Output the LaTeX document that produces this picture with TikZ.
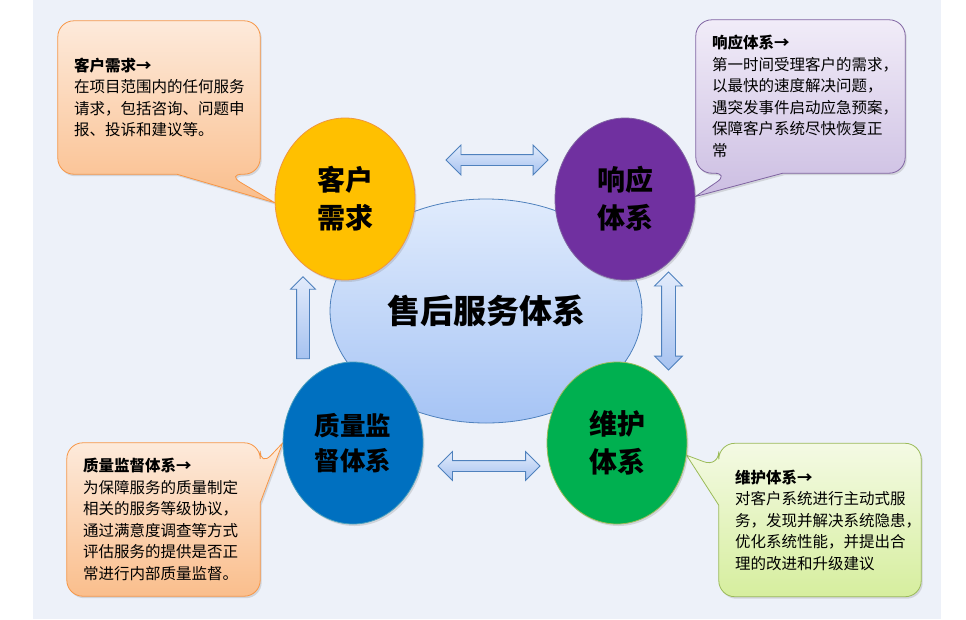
\documentclass[tikz,border=0pt]{standalone}
\usepackage{fontspec}
\setmainfont{Noto Sans CJK SC}
\usepackage{tikz}
\usetikzlibrary{positioning, calc, shapes.geometric, shapes.arrows, shadows}

\definecolor{bgblue}{RGB}{237,241,249}
\definecolor{linkblue}{RGB}{79,129,189}
\definecolor{coretop}{RGB}{224,235,252}
\definecolor{corebot}{RGB}{166,196,245}
\definecolor{arrtop}{RGB}{226,235,251}
\definecolor{arrbot}{RGB}{166,194,240}
\definecolor{reqfill}{RGB}{255,192,0}
\definecolor{reqline}{RGB}{240,150,60}
\definecolor{respfill}{RGB}{112,48,160}
\definecolor{respline}{RGB}{128,100,162}
\definecolor{qafill}{RGB}{0,112,192}
\definecolor{qaline}{RGB}{75,160,190}
\definecolor{maintfill}{RGB}{0,176,80}
\definecolor{maintline}{RGB}{155,187,89}
\definecolor{orangetop}{RGB}{253,234,219}
\definecolor{orangebot}{RGB}{250,190,140}
\definecolor{orangeline}{RGB}{247,150,70}
\definecolor{purpletop}{RGB}{241,236,248}
\definecolor{purplebot}{RGB}{204,190,226}
\definecolor{purpleline}{RGB}{128,100,162}
\definecolor{greentop}{RGB}{244,250,228}
\definecolor{greenbot}{RGB}{214,238,158}
\definecolor{greenline}{RGB}{155,187,89}

\pgfdeclarelayer{bg}
\pgfdeclarelayer{back}
\pgfsetlayers{bg,back,main}

\begin{document}
\begin{tikzpicture}[x=1pt, y=-1pt,
    softshadow/.style={drop shadow={opacity=0.25, shadow xshift=1.5pt, shadow yshift=-2pt}},
    core/.style={ellipse, draw=linkblue, line width=0.8pt, top color=coretop, bottom color=corebot,
      minimum width=312, minimum height=224, inner sep=0pt, font=\fontsize{33}{38}\selectfont\bfseries},
    part/.style={ellipse, line width=0.8pt, minimum width=140, minimum height=162, inner sep=0pt,
      align=center, font=\fontsize{28}{38}\selectfont\bfseries, softshadow},
    blockarrow/.style={draw=linkblue, line width=0.8pt, top color=arrtop, bottom color=arrbot},
    note/.style={inner xsep=16pt, inner ysep=0pt, minimum height=153, align=left,
      font=\fontsize{15.5}{21.5}\selectfont},
    notebox/.style={line width=0.8pt, draw=#1line, top color=#1top, bottom color=#1bot, softshadow}
  ]
  \useasboundingbox (0,0) rectangle (966,619);
  \begin{pgfonlayer}{bg}
    \fill[white] (0,0) rectangle (966,619);
    \fill[bgblue] (33,0) rectangle (941,619);
  \end{pgfonlayer}

  \node[core] (core) at (486,311) {售后服务体系};

  \node[part, fill=reqfill, draw=reqline] (req) at (345,199) {客户\\需求};
  \node[part, fill=respfill, draw=respline] (resp) at (625,199) {响应\\体系};
  \node[part, fill=qafill, draw=qaline, font=\fontsize{25.5}{35}\selectfont\bfseries] (qa) at (353,443) {质量监\\督体系};
  \node[part, fill=maintfill, draw=maintline] (maint) at (617,443) {维护\\体系};

  \node[blockarrow, double arrow, inner sep=5pt, double arrow head extend=9.5pt, minimum height=102] (arrtop) at (497,160) {};
  \node[blockarrow, double arrow, shape border rotate=90, inner sep=6.5pt, double arrow head extend=7pt, minimum height=98] (arrright) at (668.5,321) {};
  \node[blockarrow, double arrow, inner sep=5pt, double arrow head extend=9pt, minimum height=102] (arrbottom) at (489,466) {};
  \node[blockarrow, single arrow, shape border rotate=90, inner sep=6pt, single arrow head extend=6pt, minimum height=82] (arrleft) at (303,321) {};

  \node[note, text width=170] (reqnote) at (159,97.5) {{\bfseries 客户需求→}\\在项目范围内的任何服务\\请求，包括咨询、问题申\\报、投诉和建议等。};
  \node[note, text width=177] (respnote) at (800.5,96.5) {{\bfseries 响应体系→}\\第一时间受理客户的需求，\\以最快的速度解决问题，\\遇突发事件启动应急预案，\\保障客户系统尽快恢复正\\常};
  \node[note, text width=161] (qanote) at (163.5,519.5) {{\bfseries 质量监督体系→}\\为保障服务的质量制定\\相关的服务等级协议，\\通过满意度调查等方式\\评估服务的提供是否正\\常进行内部质量监督。};
  \node[note, text width=170] (maintnote) at (820,520) {{\bfseries 维护体系→}\\对客户系统进行主动式服\\务，发现并解决系统隐患，\\优化系统性能，并提出合\\理的改进和升级建议};

  \begin{pgfonlayer}{back}
    \draw[notebox=orange] (reqnote.north) [rounded corners=16pt] -- (reqnote.north east) -- (reqnote.south east)
      -- ($(reqnote.south west)+(169,0)$) [sharp corners] -- (req.183) -- ($(reqnote.south west)+(119,0)$)
      [rounded corners=16pt] -- (reqnote.south west) -- (reqnote.north west) -- cycle;
    \draw[notebox=purple] (respnote.north) [rounded corners=16pt] -- (respnote.north west) -- (respnote.south west)
      -- ($(respnote.south west)+(34,0)$) [sharp corners] -- (resp.2) -- ($(respnote.south west)+(87,0)$)
      [rounded corners=16pt] -- (respnote.south east) -- (respnote.north east) -- cycle;
    \draw[notebox=orange] (qanote.north) [rounded corners=16pt] -- (qanote.north east)
      -- ($(qanote.north east)+(0,24)$) [sharp corners] -- (qa.west) -- ($(qanote.north east)+(0,60)$)
      [rounded corners=16pt] -- (qanote.south east) -- (qanote.south west) -- (qanote.north west) -- cycle;
    \draw[notebox=green] (maintnote.north) [rounded corners=16pt] -- (maintnote.north west)
      -- ($(maintnote.north west)+(0,24)$) [sharp corners] -- (maint.-10) -- ($(maintnote.north west)+(0,62)$)
      [rounded corners=16pt] -- (maintnote.south west) -- (maintnote.south east) -- (maintnote.north east) -- cycle;
  \end{pgfonlayer}
\end{tikzpicture}
\end{document}
